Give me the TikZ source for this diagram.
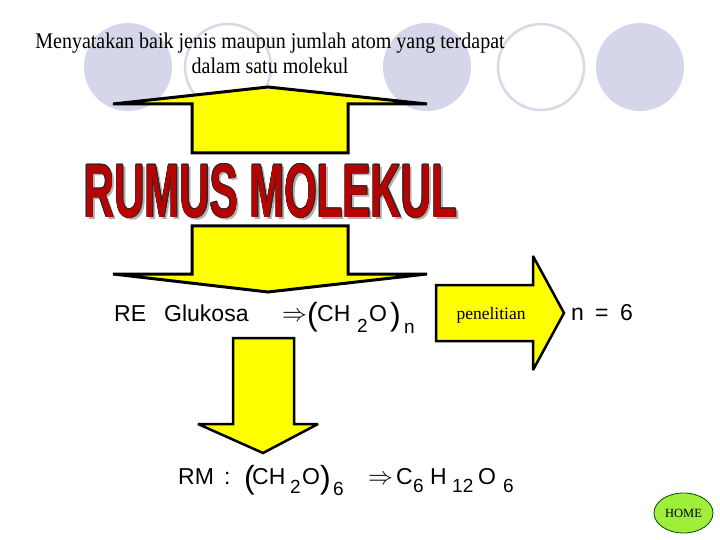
\documentclass[tikz,border=0pt]{standalone}
\usepackage{fontspec}
\setmainfont{Liberation Serif}
\newfontfamily\arial{Liberation Sans}
\usepackage{graphicx}
\usetikzlibrary{shapes.geometric}
\definecolor{lav}{RGB}{214,214,234}
\definecolor{lavline}{RGB}{216,216,232}
\definecolor{yel}{RGB}{255,255,0}
\definecolor{wordred}{RGB}{180,4,4}
\definecolor{homegreen}{RGB}{160,238,60}
\newcommand{\rmtext}{\resizebox{373pt}{53pt}{\arial\bfseries RUMUS MOLEKUL}}
\newcommand{\tall}[1]{\scalebox{1}[1.12]{#1}}
\begin{document}
\begin{tikzpicture}[x=1pt,y=-1pt,
  dot/.style={circle, fill=lav, minimum size=88pt, inner sep=0},
  ring/.style={circle, draw=lavline, line width=2.5pt, minimum size=86pt, inner sep=0},
  blockarrow/.style={fill=yel, draw=black, line width=3pt, line join=miter, miter limit=4},
  wordart/.style={anchor=south west, inner sep=0},
  ar/.style={font=\arial\fontsize{23}{27}\selectfont, inner sep=0, anchor=base west},
  sub/.style={font=\arial\fontsize{19}{22}\selectfont, inner sep=0, anchor=base west},
  par/.style={font=\arial\fontsize{32}{34}\selectfont, inner sep=0, anchor=base west},
  serif/.style={inner sep=0, anchor=base}]
\useasboundingbox (0,0) rectangle (720,540);
\fill[white] (0,0) rectangle (720,540);
% background circles
\node[dot] (c1) at (128,67) {};
\node[ring] (c2) at (228,67) {};
\node[dot] (c3) at (427,67) {};
\node[ring] (c4) at (541,67) {};
\node[dot] (c5) at (640,67) {};
% heading text
\node[serif, font=\fontsize{20}{24}\selectfont] (t1) at (270,49) {\tall{Menyatakan baik jenis maupun jumlah atom yang terdapat}};
\node[serif, font=\fontsize{20}{24}\selectfont] (t2) at (270,74) {\tall{dalam satu molekul}};
% up arrow
\draw[blockarrow] (192,153) -- (192,104) -- (113,104) -- (268,87) -- (427,104) -- (348,104) -- (348,153) -- cycle;
% RUMUS MOLEKUL word art
\node[wordart, text=black!30] (rmshadow) at (86.5,220.5) {\rmtext};
\foreach \dx/\dy [count=\i] in {0.5/0, -0.5/0, 0/0.5, 0/-0.5, 0.35/0.35, -0.35/0.35, 0.35/-0.35, -0.35/-0.35}
  \node[wordart, text=black!85] (rmo\i) at (84+\dx,218+\dy) {\rmtext};
\node[wordart, text=wordred] (rm) at (84,218) {\rmtext};
% down arrow
\draw[blockarrow] (192,226) -- (348,226) -- (348,274) -- (427,274) -- (268,292) -- (113,274) -- (192,274) -- cycle;
% RE line
\node[ar] (re) at (114,321) {RE};
\node[ar] (glu) at (164,321) {Glukosa};
\node[ar] (imp1) at (282,321) {$\Rightarrow$};
\node[par] (p1) at (307,325) {(};
\node[ar] (ch1) at (317,321) {CH};
\node[sub] (s1) at (357,332) {2};
\node[ar] (o1) at (369,321) {O};
\node[par] (p2) at (390,325) {)};
\node[sub] (s2) at (404,333) {n};
% right arrow
\draw[blockarrow, line width=2.5pt] (436,285) -- (533,285) -- (533,256) -- (564,313) -- (533,370) -- (533,341) -- (436,341) -- cycle;
\node[serif, font=\fontsize{17.5}{20}\selectfont] (pen) at (491,319) {penelitian};
\node[ar] (n6a) at (571,320) {n};
\node[ar] (n6b) at (595,320) {=};
\node[ar] (n6c) at (620,320) {6};
% small down arrow
\draw[blockarrow, line width=2.5pt] (233,338) -- (294,338) -- (294,424) -- (318,424) -- (263,453) -- (198,424) -- (233,424) -- cycle;
% RM line
\node[ar] (rmm) at (178,484) {RM};
\node[ar] (col) at (224,484) {:};
\node[par] (p3) at (244,488) {(};
\node[ar] (ch2) at (252,484) {CH};
\node[sub] (s3) at (290,493) {2};
\node[ar] (o2) at (302,484) {O};
\node[par] (p4) at (320,488) {)};
\node[sub] (s4) at (333,495) {6};
\node[ar] (imp2) at (368,484) {$\Rightarrow$};
\node[ar] (c) at (396,484) {C};
\node[sub] (s5) at (413,492) {6};
\node[ar] (h) at (430,484) {H};
\node[sub] (s6) at (452,492) {12};
\node[ar] (o3) at (478,484) {O};
\node[sub] (s7) at (503,492) {6};
% HOME button
\node[ellipse, draw=black!70!green, line width=0.8pt, fill=homegreen, minimum width=59pt, minimum height=40pt, inner sep=0, font=\fontsize{12.5}{14}\selectfont] (home) at (683.5,513) {HOME};
\end{tikzpicture}
\end{document}
